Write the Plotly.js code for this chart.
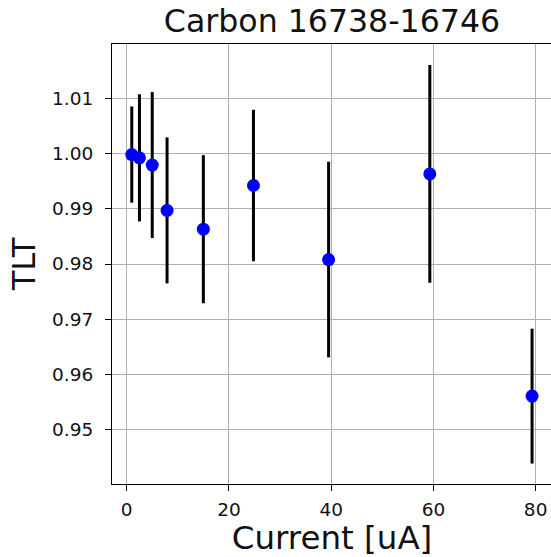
<!DOCTYPE html>
<html>
<head>
<meta charset="utf-8">
<script src="https://cdn.plot.ly/plotly-3.0.1.min.js"></script>
<style>
html, body { margin: 0; padding: 0; overflow: hidden; background: #fff; }
#plot { width: 552px; height: 557px; }
</style>
</head>
<body>
<div id="plot"></div>
<script>
const current = [1.0, 2.5, 5.0, 7.9, 15.0, 24.8, 39.5, 59.3, 79.3];
const tlt = [0.9998, 0.9992, 0.9979, 0.9897, 0.9863, 0.9942, 0.9808, 0.9963, 0.9561];
const tltErr = [0.0087, 0.0115, 0.0132, 0.0132, 0.0134, 0.0137, 0.0177, 0.0197, 0.0122];
const titleText = 'Carbon 16738-16746';
const xLabel = 'Current [uA]';
const yLabel = 'TLT';

const font = 'DejaVu Sans, sans-serif';

const trace = {
  x: current,
  y: tlt,
  type: 'scatter',
  mode: 'markers',
  marker: { color: '#0000ff', size: 13 },
  error_y: { type: 'data', array: tltErr, visible: true, color: '#000000', thickness: 3, width: 0 },
  showlegend: false
};

const axisCommon = {
  showline: true, linecolor: '#000', linewidth: 1, mirror: true,
  ticks: 'outside', ticklen: 6, tickwidth: 1, tickcolor: '#000',
  showgrid: true, gridcolor: '#b0b0b0', gridwidth: 1,
  zeroline: false,
  tickfont: { family: font, size: 18.5, color: '#111' }
};

const layout = {
  width: 552, height: 557,
  margin: { l: 112, r: 0, t: 44, b: 73 },
  paper_bgcolor: '#fff', plot_bgcolor: '#fff',
  font: { family: font, color: '#000' },
  title: {
    text: titleText,
    font: { family: font, size: 31.6, color: '#111' },
    xref: 'paper', x: 0.5, xanchor: 'center',
    yref: 'container', y: 0.962, yanchor: 'middle'
  },
  xaxis: Object.assign({}, axisCommon, {
    range: [-2.87, 83.2],
    tick0: 0, dtick: 20,
    ticklabelstandoff: 3,
    title: { text: xLabel, font: { family: font, size: 32.5, color: '#111' }, standoff: 10 }
  }),
  yaxis: Object.assign({}, axisCommon, {
    range: [0.9402, 1.0198],
    tick0: 0.95, dtick: 0.01, tickformat: '.2f',
    ticklabelstandoff: 8,
    title: { text: yLabel, font: { family: font, size: 32, color: '#111' }, standoff: 6 }
  })
};

Plotly.newPlot('plot', [trace], layout, { displayModeBar: false, staticPlot: true });
</script>
</body>
</html>
